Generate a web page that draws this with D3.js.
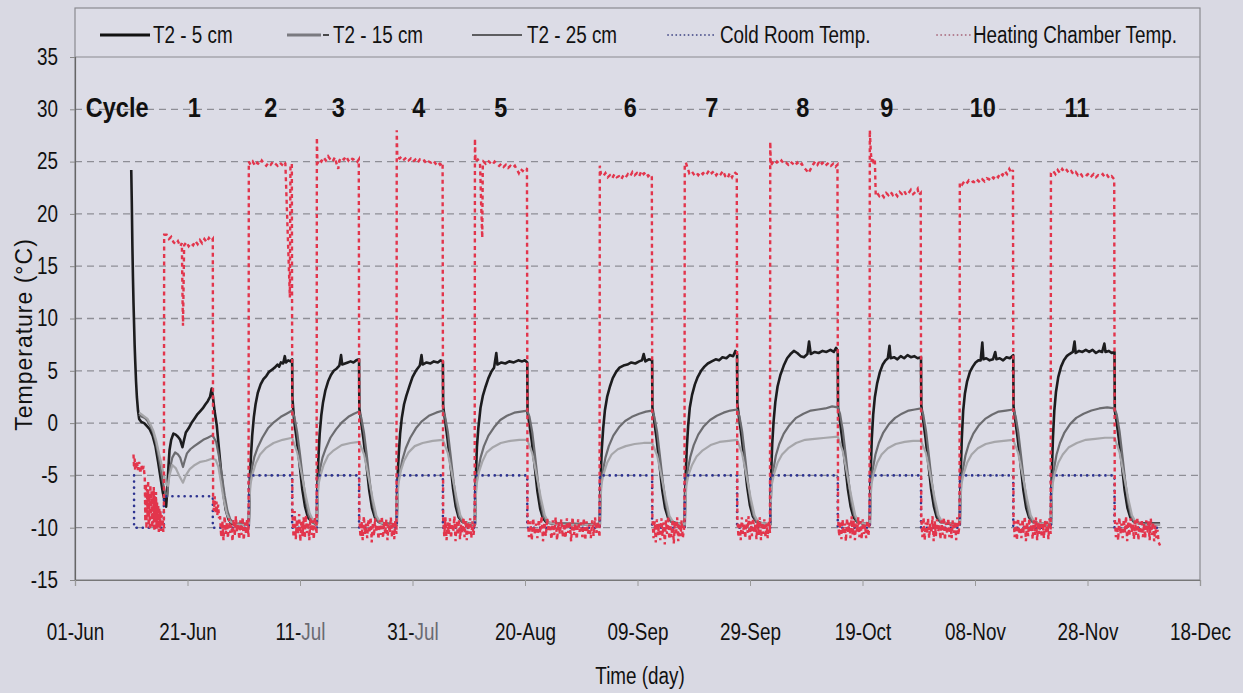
<!DOCTYPE html>
<html><head><meta charset="utf-8">
<script src="https://cdn.jsdelivr.net/npm/d3@7"></script>
<style>
body{margin:0;background:#d9d9e3;}
svg{display:block;}
text{font-family:"Liberation Sans",Arial,sans-serif;fill:#111;}
</style></head><body>
<svg id="chart" width="1243" height="693"></svg>
<script>
// ---- axis ticks (days counted from 01-Jun) ----
const xTickDays = [0,20,40,60,80,100,120,140,160,180,200];
const xTickLabels = ["01-Jun","21-Jun","11-Jul","31-Jul","20-Aug","09-Sep","29-Sep","19-Oct","08-Nov","28-Nov","18-Dec"];
const yTicks = [-15,-10,-5,0,5,10,15,20,25,30,35];

// ---- cycle annotations ----
const cycleLabels = ["Cycle","1","2","3","4","5","6","7","8","9","10","11"];
const cycleLabelDays = [7.5,21.2,34.8,46.8,61.1,75.7,98.7,113.2,129.4,144.3,161.4,178.1];

const legendNames = ["T2 - 5 cm","T2 - 15 cm","T2 - 25 cm","Cold Room Temp.","Heating Chamber Temp."];

// ---- T2 at 5 cm depth [day, °C] ----
const t2_5cm = [
[10.0,24.2],[10.1,21],[10.2,17],[10.3,14],[10.4,11.5],[10.5,9.5],[10.6,7.5],[10.7,6],[10.85,4],[11.0,2.5],[11.2,1.2],[11.4,0.4],[11.8,0.1],[12.3,0.0],[12.8,-0.3],[13.3,-0.6],[13.8,-1.2],[14.3,-2.2],[14.8,-3.8],[15.2,-5.2],[15.6,-6.6],[16.0,-7.6],[16.2,-8.0],[16.4,-6.5],[16.6,-4.3],[16.8,-2.6],[17.1,-1.6],[17.5,-1.0],[17.9,-1.1],[18.3,-1.3],[18.7,-1.6],[19.1,-2.3],[19.3,-1.8],[19.7,-0.9],[20.2,-0.5],[20.7,0.0],[21.2,0.4],[21.7,0.8],[22.2,1.1],[22.7,1.4],[23.2,1.8],[23.6,2.1],[24.0,2.5],[24.3,3.3],[24.5,2.6],[24.8,1.2],[25.2,-0.2],[25.6,-2.5],[26.0,-4.8],[26.4,-6.8],[26.8,-8.3],[27.3,-9.2],[27.8,-9.6],[28.5,-9.7],[29.5,-9.6],[30.9,-9.7],
[31.0,-7],[31.1,-5],[31.3,-3],[31.5,-1.2],[31.8,0.6],[32.1,1.8],[32.5,2.9],[33.0,3.7],[33.5,4.2],[34.0,4.5],[34.5,4.9],[35.0,5.1],[35.5,5.3],[36.0,5.6],[36.3,5.4],[36.6,5.8],[37.0,5.7],[37.3,6.4],[37.5,5.8],[37.9,6.0],[38.3,5.9],[38.6,6.1],
[38.65,2.4],[38.95,0.3],[39.4,-1.5],[39.9,-3.8],[40.4,-6.3],[40.9,-8.0],[41.4,-9.0],[42.0,-9.4],[43.0,-9.6],
[43.05,-7],[43.15,-5],[43.3,-3],[43.5,-1],[43.8,0.8],[44.1,2.0],[44.5,3.1],[45.0,4.0],[45.5,4.6],[46.0,5.0],[46.5,5.2],[47.0,5.5],[47.3,6.5],[47.5,5.6],[48.0,5.7],[48.5,5.8],[49.0,5.9],[49.5,5.8],[50.0,6.0],[50.5,6.1],
[50.55,1.4],[50.85,0.2],[51.3,-1.6],[51.8,-3.9],[52.3,-6.4],[52.8,-8.1],[53.3,-9.0],[53.9,-9.4],[55.0,-9.6],[57.2,-9.7],
[57.25,-7],[57.4,-4.5],[57.55,-3],[57.8,-1],[58.1,0.5],[58.5,1.8],[58.9,2.6],[59.5,3.6],[60.0,4.4],[60.6,5.0],[61.3,5.5],[61.6,6.5],[61.8,5.6],[62.5,5.8],[63.2,5.7],[63.8,5.9],[64.5,5.8],[65.0,6.0],[65.4,5.9],
[65.45,1.6],[65.75,0.4],[66.2,-1.4],[66.7,-3.7],[67.2,-6.2],[67.7,-8.0],[68.2,-9.0],[68.8,-9.4],[70.0,-9.6],[71.1,-9.7],
[71.15,-7],[71.3,-4.5],[71.45,-2.3],[71.7,-0.5],[72.1,1.5],[72.5,2.6],[73.0,3.5],[73.5,4.3],[74.0,4.9],[74.5,5.3],[74.9,6.7],[75.1,5.6],[75.8,5.8],[76.5,5.7],[77.2,5.9],[78.0,5.8],[78.8,6.0],[79.5,5.9],[80.0,6.0],[80.4,5.8],
[80.45,1.0],[80.75,0.0],[81.2,-1.7],[81.7,-4.0],[82.2,-6.5],[82.7,-8.2],[83.2,-9.1],[83.8,-9.5],[85.0,-9.6],[93.3,-9.7],
[93.35,-7],[93.5,-4.5],[93.65,-2.5],[93.9,-0.5],[94.2,1.2],[94.6,2.5],[95.1,3.5],[95.6,4.3],[96.2,4.9],[96.8,5.3],[97.5,5.5],[98.2,5.6],[98.9,5.8],[99.6,5.7],[100.3,5.9],[100.8,6.0],[101.1,6.6],[101.4,5.9],[102.0,6.1],[102.6,6.0],
[102.65,1.5],[102.95,0.3],[103.4,-1.5],[103.9,-3.9],[104.4,-6.4],[104.9,-8.1],[105.4,-9.0],[106.0,-9.4],[107.0,-9.6],[108.4,-9.7],
[108.45,-7],[108.6,-4.5],[108.75,-2.5],[109.0,-0.3],[109.3,1.5],[109.7,2.7],[110.2,3.7],[110.7,4.4],[111.3,5.0],[111.9,5.4],[112.5,5.7],[113.2,5.9],[113.9,6.1],[114.5,6.0],[115.1,6.3],[115.8,6.2],[116.4,6.5],[117.0,6.4],[117.4,6.9],[117.7,6.6],
[117.75,1.8],[118.05,0.5],[118.5,-1.3],[119.0,-3.6],[119.5,-6.1],[120.0,-7.9],[120.5,-8.9],[121.1,-9.4],[122.2,-9.6],[123.6,-9.7],
[123.65,-7],[123.8,-4.2],[123.95,-2],[124.2,0.2],[124.5,2.0],[124.9,3.5],[125.4,4.6],[126.0,5.5],[126.6,6.2],[127.2,6.6],[127.8,6.9],[128.4,6.7],[129.0,6.4],[129.6,6.3],[130.2,6.6],[130.5,7.8],[130.8,6.6],[131.5,6.8],[132.2,6.7],[132.9,6.9],[133.6,6.8],[134.3,7.0],[134.9,6.8],[135.3,7.2],[135.6,6.9],
[135.65,1.5],[135.95,0.3],[136.4,-1.5],[136.9,-3.9],[137.4,-6.3],[137.9,-8.0],[138.4,-9.0],[139.0,-9.4],[140.1,-9.6],[141.3,-9.7],
[141.35,-7],[141.5,-4],[141.65,-1.5],[141.9,0.8],[142.2,2.5],[142.6,3.8],[143.1,4.9],[143.6,5.6],[144.1,6.0],[144.5,6.2],[144.8,7.4],[145.0,6.2],[145.6,6.3],[146.2,6.1],[146.8,6.4],[147.4,6.2],[148.0,6.5],[148.6,6.3],[149.2,6.4],[149.8,6.2],[150.4,6.3],
[150.45,1.7],[150.75,0.4],[151.2,-1.4],[151.7,-3.8],[152.2,-6.3],[152.7,-8.0],[153.2,-9.0],[153.8,-9.4],[155.0,-9.6],[157.3,-9.7],
[157.35,-7],[157.5,-4.2],[157.65,-1.5],[157.9,1.2],[158.2,2.8],[158.6,4.0],[159.1,4.9],[159.6,5.4],[160.1,5.8],[160.6,6.0],[161.0,6.0],[161.3,7.7],[161.5,6.1],[162.0,6.2],[162.6,6.0],[163.2,6.1],[163.6,6.8],[163.8,6.1],[164.4,6.2],[165.0,6.0],[165.6,6.3],[166.2,6.2],[166.8,6.5],
[166.85,1.6],[167.15,0.3],[167.6,-1.5],[168.1,-3.9],[168.6,-6.4],[169.1,-8.1],[169.6,-9.0],[170.2,-9.4],[171.3,-9.6],[173.5,-9.7],
[173.55,-7],[173.7,-4],[173.85,-1.5],[174.1,1.2],[174.4,3.0],[174.8,4.4],[175.3,5.4],[175.8,6.0],[176.3,6.4],[176.8,6.6],[177.4,6.8],[177.7,7.8],[177.9,6.7],[178.5,6.9],[179.1,6.8],[179.7,7.0],[180.3,6.8],[180.9,7.0],[181.5,6.7],[182.1,6.9],[182.6,6.8],[183.0,7.6],[183.2,6.8],[183.8,6.9],[184.3,6.7],[184.8,6.8],
[184.85,1.2],[185.15,0.2],[185.6,-1.6],[186.1,-3.9],[186.6,-6.4],[187.1,-8.1],[187.6,-9.0],[188.2,-9.4],[189.5,-9.6],[192.9,-9.6]
];

// ---- T2 at 15 cm depth ----
const t2_15cm = [
[11.4,0.8],[11.9,0.6],[12.4,0.5],[12.9,0.2],[13.4,-0.3],[13.9,-0.9],[14.4,-1.9],[14.9,-3.3],[15.3,-4.6],[15.7,-5.9],[16.1,-6.8],[16.4,-7.0],[16.6,-5.6],[16.9,-4.3],[17.3,-3.3],[17.8,-2.8],[18.3,-3.0],[18.7,-3.3],[19.2,-4.2],[19.5,-3.6],[19.9,-2.9],[20.5,-2.5],[21.2,-2.2],[22.0,-1.9],[22.8,-1.6],[23.6,-1.4],[24.3,-1.2],[24.6,-1.3],[25.1,-1.8],[25.6,-3.2],[26.1,-5.0],[26.6,-6.9],[27.1,-8.4],[27.6,-9.2],[28.3,-9.6],[29.5,-9.7],[30.9,-9.7],
[31.0,-7.5],[31.15,-5.5],[31.5,-4.2],[31.9,-3.2],[32.5,-2.3],[33.3,-1.4],[34.3,-0.5],[35.4,0.1],[36.6,0.6],[37.6,0.9],[38.6,1.2],[39.0,0.6],[39.5,-0.9],[40.0,-3.0],[40.5,-5.3],[41.0,-7.3],[41.5,-8.7],[42.0,-9.4],[42.8,-9.7],[43.0,-9.7],
[43.1,-7.5],[43.25,-5.5],[43.6,-4.3],[44.0,-3.3],[44.6,-2.4],[45.4,-1.4],[46.4,-0.6],[47.5,0.1],[48.6,0.6],[49.6,0.9],[50.5,1.1],[50.9,0.5],[51.4,-1.0],[51.9,-3.2],[52.4,-5.6],[52.9,-7.6],[53.4,-8.9],[54.0,-9.5],[55,-9.7],[57.2,-9.7],
[57.3,-7.5],[57.45,-5.5],[57.8,-4.6],[58.2,-3.5],[58.8,-2.4],[59.6,-1.4],[60.6,-0.5],[61.7,0.2],[62.9,0.7],[64.2,1.0],[65.4,1.2],[65.8,0.6],[66.3,-0.9],[66.8,-3.2],[67.3,-5.6],[67.8,-7.6],[68.3,-8.9],[68.9,-9.5],[70,-9.7],[71.1,-9.7],
[71.2,-7.5],[71.35,-5.5],[71.7,-4.4],[72.1,-3.3],[72.7,-2.2],[73.5,-1.2],[74.5,-0.4],[75.6,0.3],[76.8,0.7],[78.1,1.0],[79.3,1.1],[80.4,1.2],[80.8,0.6],[81.3,-0.9],[81.8,-3.2],[82.3,-5.6],[82.8,-7.6],[83.3,-8.9],[83.9,-9.5],[86,-9.7],[93.3,-9.7],
[93.4,-7.5],[93.55,-5.5],[93.9,-4.4],[94.3,-3.3],[94.9,-2.2],[95.7,-1.2],[96.7,-0.4],[97.8,0.2],[99.0,0.6],[100.3,0.9],[101.5,1.1],[102.6,1.2],[103.0,0.6],[103.5,-0.9],[104.0,-3.2],[104.5,-5.6],[105.0,-7.6],[105.5,-8.9],[106.1,-9.5],[108.4,-9.7],
[108.5,-7.5],[108.65,-5.5],[109.0,-4.3],[109.4,-3.2],[110.0,-2.1],[110.8,-1.1],[111.8,-0.3],[112.9,0.3],[114.1,0.7],[115.3,1.0],[116.5,1.2],[117.7,1.3],[118.1,0.7],[118.6,-0.8],[119.1,-3.1],[119.6,-5.5],[120.1,-7.5],[120.6,-8.8],[121.2,-9.5],[123.6,-9.7],
[123.7,-7.5],[123.85,-5.5],[124.2,-4.3],[124.6,-3.1],[125.2,-2.0],[126.0,-1.0],[127.0,-0.2],[128.2,0.5],[129.5,0.9],[130.8,1.2],[132.1,1.3],[133.4,1.4],[134.6,1.6],[135.6,1.5],[136.0,0.9],[136.5,-0.7],[137.0,-3.0],[137.5,-5.4],[138.0,-7.5],[138.5,-8.8],[139.1,-9.5],[141.3,-9.7],
[141.4,-7.5],[141.55,-5.5],[141.9,-4.2],[142.3,-3.0],[142.9,-1.9],[143.7,-0.9],[144.7,-0.1],[145.8,0.5],[147.0,0.9],[148.2,1.2],[149.3,1.3],[150.4,1.4],[150.8,0.8],[151.3,-0.8],[151.8,-3.1],[152.3,-5.5],[152.8,-7.5],[153.3,-8.8],[153.9,-9.5],[157.3,-9.7],
[157.4,-7.5],[157.55,-5.5],[157.9,-4.3],[158.3,-3.1],[158.9,-2.0],[159.7,-1.0],[160.7,-0.2],[161.8,0.4],[163.0,0.8],[164.2,1.1],[165.5,1.2],[166.8,1.3],[167.2,0.7],[167.7,-0.9],[168.2,-3.2],[168.7,-5.6],[169.2,-7.6],[169.7,-8.9],[170.3,-9.5],[173.5,-9.7],
[173.6,-7.5],[173.75,-5.5],[174.1,-4.2],[174.5,-3.0],[175.1,-1.9],[175.9,-0.9],[176.9,-0.1],[178.0,0.5],[179.3,0.9],[180.7,1.2],[182.1,1.4],[183.5,1.5],[184.8,1.4],[185.2,0.8],[185.7,-0.8],[186.2,-3.1],[186.7,-5.5],[187.2,-7.5],[187.7,-8.8],[188.3,-9.5],[190,-9.7],[192.9,-9.7]
];

// ---- T2 at 25 cm depth ----
const t2_25cm = [
[11.4,1.0],[11.9,0.8],[12.4,0.6],[12.9,0.4],[13.4,-0.1],[13.9,-0.7],[14.4,-1.6],[14.9,-2.8],[15.4,-4.0],[15.8,-5.0],[16.2,-5.8],[16.5,-6.0],[16.8,-5.0],[17.3,-4.0],[17.9,-4.3],[18.5,-5.0],[19.2,-5.7],[19.7,-5.0],[20.4,-4.4],[21.3,-4.0],[22.3,-3.7],[23.3,-3.6],[24.3,-3.4],[25.0,-3.5],[25.5,-4.2],[25.9,-5.5],[26.4,-7.2],[27.0,-8.7],[27.6,-9.4],[28.4,-9.7],[30.9,-9.7],
[31.0,-7.5],[31.2,-5.8],[31.6,-4.8],[32.1,-3.9],[32.9,-3.0],[33.9,-2.4],[35.3,-1.9],[36.9,-1.6],[38.6,-1.4],[39.5,-2.8],[40.3,-4.9],[41.0,-6.9],[41.7,-8.6],[42.4,-9.4],[43.0,-9.7],
[43.1,-7.5],[43.3,-5.8],[43.7,-4.9],[44.2,-4.0],[45.0,-3.1],[46.0,-2.6],[47.4,-2.1],[49.0,-1.9],[50.5,-1.8],[51.4,-3.0],[52.2,-5.2],[52.9,-7.2],[53.6,-8.9],[54.3,-9.5],[55.5,-9.7],[57.2,-9.7],
[57.3,-7.5],[57.5,-5.8],[57.9,-4.6],[58.5,-3.6],[59.3,-2.8],[60.4,-2.2],[61.8,-1.9],[63.6,-1.7],[65.4,-1.6],[66.3,-2.9],[67.1,-5.1],[67.8,-7.1],[68.5,-8.8],[69.2,-9.5],[71.1,-9.7],
[71.2,-7.5],[71.4,-5.8],[71.8,-4.7],[72.4,-3.7],[73.2,-2.8],[74.3,-2.3],[75.7,-1.9],[77.4,-1.7],[79.0,-1.6],[80.4,-1.6],[81.3,-2.9],[82.1,-5.1],[82.8,-7.1],[83.5,-8.8],[84.2,-9.5],[86,-9.7],[93.3,-9.7],
[93.4,-7.5],[93.6,-5.8],[94.0,-4.8],[94.6,-3.8],[95.4,-3.0],[96.5,-2.5],[97.9,-2.2],[99.5,-2.0],[101.1,-1.9],[102.6,-1.9],[103.5,-3.1],[104.3,-5.2],[105.0,-7.2],[105.7,-8.9],[106.4,-9.5],[108.4,-9.7],
[108.5,-7.5],[108.7,-5.9],[109.1,-4.9],[109.7,-4.0],[110.5,-3.2],[111.6,-2.6],[113.0,-2.1],[114.6,-1.8],[116.2,-1.7],[117.7,-1.6],[118.6,-2.9],[119.4,-5.1],[120.1,-7.1],[120.8,-8.8],[121.5,-9.5],[123.6,-9.7],
[123.7,-7.5],[123.9,-5.8],[124.3,-4.8],[124.9,-3.8],[125.7,-3.0],[126.8,-2.4],[128.2,-1.9],[129.8,-1.6],[131.5,-1.5],[133.5,-1.4],[135.6,-1.3],[136.5,-2.7],[137.3,-5.0],[138.0,-7.0],[138.7,-8.8],[139.4,-9.5],[141.3,-9.7],
[141.4,-7.5],[141.6,-5.8],[142.0,-4.8],[142.6,-3.8],[143.4,-3.0],[144.5,-2.4],[145.9,-2.0],[147.5,-1.8],[149.0,-1.7],[150.4,-1.7],[151.3,-2.9],[152.1,-5.1],[152.8,-7.1],[153.5,-8.8],[154.2,-9.5],[157.3,-9.7],
[157.4,-7.5],[157.6,-5.8],[158.0,-4.8],[158.6,-3.8],[159.4,-3.0],[160.5,-2.4],[161.9,-2.0],[163.5,-1.8],[165.1,-1.7],[166.8,-1.6],[167.7,-2.9],[168.5,-5.1],[169.2,-7.1],[169.9,-8.8],[170.6,-9.5],[173.5,-9.7],
[173.6,-7.5],[173.8,-5.8],[174.2,-4.8],[174.8,-3.8],[175.6,-3.0],[176.7,-2.3],[178.1,-1.9],[179.7,-1.6],[181.4,-1.5],[183.1,-1.4],[184.8,-1.4],[185.7,-2.8],[186.5,-5.1],[187.2,-7.1],[187.9,-8.8],[188.6,-9.5],[190,-9.7],[192.9,-9.7]
];

// ---- cold room set point ----
const coldRoom = [
[10.5,-5],[10.5,-10],[15.8,-10],[15.8,-7],[24.5,-7],[24.5,-10],[30.9,-10],[30.9,-5],[38.6,-5],[38.6,-10],[43.0,-10],[43.0,-5],[50.5,-5],[50.5,-10],[57.2,-10],[57.2,-5],[65.4,-5],[65.4,-10],[71.1,-10],[71.1,-5],[80.4,-5],[80.4,-10],[93.3,-10],[93.3,-5],[102.6,-5],[102.6,-10],[108.4,-10],[108.4,-5],[117.7,-5],[117.7,-10],[123.6,-10],[123.6,-5],[135.6,-5],[135.6,-10],[141.3,-10],[141.3,-5],[150.4,-5],[150.4,-10],[157.3,-10],[157.3,-5],[166.8,-5],[166.8,-10],[173.5,-10],[173.5,-5],[184.8,-5],[184.8,-10],[192.9,-10]
];

// ---- heating chamber temperature ----
const heatingChamber = [
[10.4,-3.0],[10.5,-4.3],[10.6,-3.4],[10.7,-4.6],[10.8,-3.8],[10.9,-4.4],[11.0,-3.6],[11.2,-4.5],[11.4,-3.7],[11.6,-4.8],[11.8,-4.0],[12.0,-4.6],[12.2,-4.1],
[12.4,-5.2],[12.5,-9.4],[12.6,-5.8],[12.7,-10.1],[12.8,-6.3],[12.9,-9.0],[13.0,-5.5],[13.1,-9.8],[13.2,-6.8],[13.3,-10.2],[13.4,-5.9],[13.5,-8.8],[13.6,-6.5],[13.7,-10.0],[13.8,-7.2],[13.9,-9.6],[14.0,-6.1],[14.1,-10.3],[14.2,-7.0],[14.3,-9.2],[14.4,-6.6],[14.5,-10.1],[14.6,-7.6],[14.7,-9.7],[14.8,-7.9],[14.9,-10.4],[15.0,-8.1],[15.1,-10.0],[15.2,-8.4],[15.3,-10.3],[15.4,-8.8],[15.5,-9.9],[15.6,-9.2],[15.7,-10.4],[15.8,-10.0],
[15.85,18.0],[16.3,18.0],[16.7,17.6],[17.1,17.8],[17.5,17.3],[17.9,17.1],[18.3,17.4],[18.7,16.9],[19.0,17.2],[19.1,12.5],[19.2,9.3],[19.3,13],[19.4,17.0],[19.8,17.3],[20.2,16.9],[20.6,17.2],[21.0,17.0],[21.4,17.4],[21.8,17.1],[22.2,17.5],[22.6,17.2],[23.0,17.6],[23.4,17.3],[23.8,17.7],[24.2,17.4],[24.5,17.6],
[24.55,-7.2],[24.7,-8.4],[24.85,-7.0],[25.0,-8.6],[25.15,-7.5],[25.3,-8.8],[25.45,-7.8],[25.6,-9.0],
[25.8,-9.0],[26.0,-10.9],[26.2,-9.4],[26.4,-11.2],[26.6,-8.9],[26.8,-10.6],[27.0,-9.5],[27.2,-11.0],[27.4,-9.1],[27.6,-10.5],[27.8,-9.7],[28.0,-11.3],[28.2,-9.2],[28.4,-10.8],[28.6,-8.9],[28.8,-10.4],[29.0,-9.6],[29.2,-11.1],[29.4,-9.3],[29.6,-10.7],[29.8,-9.0],[30.0,-11.2],[30.2,-9.5],[30.4,-10.6],[30.6,-9.2],[30.85,-10.9],
[30.9,25.0],[31.2,24.7],[31.6,25.0],[32.0,24.6],[32.4,24.9],[32.8,24.7],[33.2,25.1],[33.6,24.8],[34.0,24.6],[34.4,24.9],[34.8,24.7],[35.2,25.0],[35.6,24.8],[36.0,24.6],[36.4,24.9],[36.8,24.7],[37.2,25.0],[37.4,24.8],[38.2,12.0],[38.3,24.6],[38.55,24.8],
[38.65,-8.6],[38.85,-10.9],[39.05,-8.4],[39.25,-11.1],[39.45,-9.2],[39.65,-10.6],[39.85,-8.7],[40.05,-11.3],[40.25,-9.4],[40.45,-10.8],[40.65,-9.0],[40.85,-11.0],[41.05,-8.8],[41.25,-10.5],[41.45,-9.5],[41.65,-11.2],[41.85,-9.1],[42.05,-10.7],[42.25,-9.3],[42.45,-11.1],[42.65,-9.0],[42.95,-10.6],
[43.0,27.3],[43.1,24.8],[43.4,25.2],[43.8,25.0],[44.2,25.4],[44.6,25.1],[45.0,25.5],[45.4,25.2],[45.8,25.0],[46.2,25.4],[46.6,24.6],[46.8,24.3],[47.0,25.1],[47.4,25.4],[47.8,25.2],[48.2,25.5],[48.6,25.1],[49.0,25.4],[49.4,25.2],[49.8,25.3],[50.2,25.0],[50.45,25.2],
[50.55,-9.1],[50.75,-10.9],[50.95,-9.4],[51.15,-11.2],[51.35,-8.9],[51.55,-10.6],[51.75,-9.6],[51.95,-11.0],[52.15,-9.2],[52.35,-10.5],[52.55,-9.0],[52.75,-11.4],[52.95,-9.5],[53.15,-10.8],[53.35,-9.1],[53.55,-10.4],[53.75,-9.7],[53.95,-11.1],[54.15,-9.3],[54.35,-10.7],[54.55,-8.9],[54.75,-11.0],[54.95,-9.4],[55.15,-10.6],[55.35,-9.2],[55.55,-11.2],[55.75,-9.6],[55.95,-10.5],[56.15,-9.0],[56.35,-10.9],[56.55,-9.4],[56.75,-11.1],[56.95,-9.3],[57.15,-10.6],
[57.2,28.0],[57.3,25.4],[57.7,25.3],[58.1,25.5],[58.5,25.2],[58.9,25.4],[59.3,25.1],[59.7,25.3],[60.1,25.0],[60.5,25.2],[60.9,24.9],[61.3,25.2],[61.7,25.0],[62.1,25.1],[62.5,24.8],[62.9,25.0],[63.3,24.9],[63.7,25.1],[64.1,24.8],[64.5,25.0],[64.9,24.7],[65.35,24.9],
[65.45,-9.2],[65.65,-10.8],[65.85,-9.0],[66.05,-11.2],[66.25,-9.5],[66.45,-10.6],[66.65,-9.1],[66.85,-11.0],[67.05,-9.6],[67.25,-10.4],[67.45,-8.9],[67.65,-11.3],[67.85,-9.4],[68.05,-10.7],[68.25,-9.2],[68.45,-11.1],[68.65,-9.7],[68.85,-10.5],[69.05,-9.0],[69.25,-10.9],[69.45,-9.3],[69.65,-11.2],[69.85,-9.5],[70.05,-10.6],[70.25,-9.1],[70.45,-11.0],[70.65,-9.4],[70.85,-10.7],[71.05,-9.6],
[71.1,27.2],[71.2,25.0],[71.6,25.2],[72.0,24.9],[72.2,21.0],[72.4,17.7],[72.5,24.8],[72.6,25.0],[73.0,24.8],[73.4,25.1],[73.8,24.9],[74.2,24.7],[74.6,25.0],[75.0,24.8],[75.4,24.6],[75.8,24.8],[76.2,24.5],[76.6,24.7],[77.0,24.4],[77.4,24.6],[77.8,24.4],[78.2,24.6],[78.6,24.2],[78.9,23.9],[79.2,24.3],[79.6,24.1],[80.0,24.4],[80.35,24.3],
[80.45,-9.0],[80.7,-10.9],[80.95,-9.4],[81.2,-11.2],[81.45,-9.1],[81.7,-10.6],[81.95,-9.6],[82.2,-11.0],[82.45,-9.2],[82.7,-10.5],[82.95,-8.9],[83.2,-11.3],[83.45,-9.5],[83.7,-10.8],[83.95,-9.1],[84.2,-10.4],[84.45,-9.7],[84.7,-11.1],[84.95,-9.3],[85.2,-10.7],[85.45,-9.0],[85.7,-11.2],[85.95,-9.5],[86.2,-10.6],[86.45,-9.2],[86.7,-10.9],[86.95,-9.6],[87.2,-11.0],[87.45,-9.1],[87.7,-10.5],[87.95,-9.4],[88.2,-11.3],[88.45,-9.0],[88.7,-10.7],[88.95,-9.6],[89.2,-11.1],[89.45,-9.2],[89.7,-10.4],[89.95,-9.5],[90.2,-10.9],[90.45,-9.1],[90.7,-11.2],[90.95,-9.4],[91.2,-10.6],[91.45,-9.7],[91.7,-11.0],[91.95,-9.3],[92.2,-10.8],[92.45,-9.0],[92.7,-10.5],[92.95,-9.4],[93.25,-10.9],
[93.3,24.6],[93.5,23.8],[93.9,23.6],[94.3,23.9],[94.7,23.5],[95.1,23.7],[95.5,23.4],[95.9,23.8],[96.3,23.5],[96.7,23.6],[97.1,23.3],[97.5,23.7],[97.9,23.5],[98.3,23.8],[98.7,23.6],[99.1,24.0],[99.5,23.7],[99.9,23.9],[100.3,23.6],[100.7,24.1],[101.1,23.8],[101.5,24.0],[101.9,23.6],[102.3,23.8],[102.55,23.5],
[102.65,-9.0],[102.85,-11.0],[103.05,-9.4],[103.25,-11.4],[103.45,-9.2],[103.65,-10.7],[103.85,-9.6],[104.05,-11.2],[104.25,-9.1],[104.45,-10.8],[104.65,-9.5],[104.85,-11.6],[105.05,-9.3],[105.25,-10.6],[105.45,-8.9],[105.65,-11.1],[105.85,-9.7],[106.05,-10.9],[106.25,-9.2],[106.45,-11.5],[106.65,-9.4],[106.85,-10.7],[107.05,-9.0],[107.25,-11.3],[107.45,-9.6],[107.65,-10.8],[107.85,-9.3],[108.05,-11.0],[108.35,-9.8],
[108.4,24.6],[108.6,24.9],[108.9,24.4],[109.2,23.9],[109.6,24.1],[110.0,23.8],[110.4,24.0],[110.8,23.7],[111.2,24.0],[111.6,23.8],[112.0,24.1],[112.4,23.9],[112.8,24.2],[113.2,23.9],[113.6,24.1],[114.0,23.7],[114.4,24.0],[114.8,23.8],[115.2,24.1],[115.6,23.6],[116.0,23.4],[116.4,23.9],[116.8,23.5],[117.2,24.0],[117.65,23.8],
[117.75,-9.1],[117.95,-10.9],[118.15,-9.5],[118.35,-11.2],[118.55,-9.0],[118.75,-10.6],[118.95,-9.6],[119.15,-11.0],[119.35,-9.2],[119.55,-10.5],[119.75,-8.9],[119.95,-11.3],[120.15,-9.4],[120.35,-10.8],[120.55,-9.1],[120.75,-10.4],[120.95,-9.7],[121.15,-11.1],[121.35,-9.3],[121.55,-10.7],[121.75,-9.0],[121.95,-11.2],[122.15,-9.5],[122.35,-10.6],[122.55,-9.2],[122.75,-10.9],[122.95,-9.6],[123.15,-11.0],[123.35,-9.3],[123.55,-10.5],
[123.6,26.9],[123.7,24.6],[124.0,24.9],[124.4,24.7],[124.8,25.0],[125.2,24.8],[125.6,25.1],[126.0,24.8],[126.4,24.9],[126.8,24.7],[127.2,25.0],[127.6,24.8],[128.0,24.6],[128.4,24.9],[128.8,24.6],[129.2,24.8],[129.6,24.4],[130.0,24.2],[130.4,23.9],[130.8,24.3],[131.2,24.7],[131.6,25.0],[132.0,24.7],[132.4,25.1],[132.8,24.8],[133.2,25.0],[133.6,24.7],[134.0,24.9],[134.4,24.6],[134.8,24.8],[135.2,24.5],[135.55,24.7],
[135.65,-9.0],[135.85,-10.8],[136.05,-9.4],[136.25,-11.1],[136.45,-9.2],[136.65,-10.6],[136.85,-9.6],[137.05,-11.3],[137.25,-9.1],[137.45,-10.5],[137.65,-9.5],[137.85,-11.0],[138.05,-8.9],[138.25,-10.7],[138.45,-9.3],[138.65,-11.2],[138.85,-9.6],[139.05,-10.4],[139.25,-9.0],[139.45,-10.9],[139.65,-9.4],[139.85,-11.1],[140.05,-9.2],[140.25,-10.6],[140.45,-9.7],[140.65,-11.0],[140.85,-9.3],[141.05,-10.8],[141.25,-9.5],
[141.3,28.0],[141.45,26.2],[141.6,25.0],[141.8,25.4],[142.0,24.8],[142.2,25.1],[142.35,21.8],[142.6,22.0],[143.0,21.7],[143.4,21.9],[143.8,21.6],[144.2,22.0],[144.6,21.8],[145.0,22.1],[145.4,21.8],[145.8,22.0],[146.2,21.7],[146.6,22.1],[147.0,21.9],[147.4,22.2],[147.8,21.8],[148.2,22.0],[148.6,22.3],[149.0,21.9],[149.4,22.1],[149.8,22.4],[150.0,21.8],[150.35,22.0],
[150.45,-9.2],[150.65,-10.9],[150.85,-9.0],[151.05,-11.2],[151.25,-9.5],[151.45,-10.6],[151.65,-9.1],[151.85,-11.0],[152.05,-9.6],[152.25,-10.5],[152.45,-8.9],[152.65,-11.3],[152.85,-9.4],[153.05,-10.8],[153.25,-9.2],[153.45,-10.4],[153.65,-9.7],[153.85,-11.1],[154.05,-9.3],[154.25,-10.7],[154.45,-9.0],[154.65,-11.2],[154.85,-9.5],[155.05,-10.6],[155.25,-9.1],[155.45,-10.9],[155.65,-9.6],[155.85,-11.0],[156.05,-9.3],[156.25,-10.5],[156.45,-9.4],[156.65,-11.2],[156.85,-9.0],[157.05,-10.7],[157.25,-9.6],
[157.3,23.0],[157.7,22.8],[158.1,23.1],[158.5,22.9],[158.9,23.2],[159.3,23.0],[159.7,23.1],[160.1,22.9],[160.5,23.2],[160.9,23.0],[161.3,23.3],[161.7,23.1],[162.1,23.4],[162.5,23.3],[162.9,23.6],[163.3,23.4],[163.7,23.7],[164.1,23.5],[164.5,23.9],[164.9,23.7],[165.3,24.1],[165.7,23.8],[166.1,24.3],[166.5,23.9],[166.75,24.2],
[166.85,-9.0],[167.05,-10.9],[167.25,-9.4],[167.45,-11.2],[167.65,-9.1],[167.85,-10.6],[168.05,-9.6],[168.25,-11.0],[168.45,-9.2],[168.65,-10.5],[168.85,-8.9],[169.05,-11.3],[169.25,-9.5],[169.45,-10.8],[169.65,-9.1],[169.85,-10.4],[170.05,-9.7],[170.25,-11.1],[170.45,-9.3],[170.65,-10.7],[170.85,-9.0],[171.05,-11.2],[171.25,-9.5],[171.45,-10.6],[171.65,-9.2],[171.85,-10.9],[172.05,-9.6],[172.25,-11.0],[172.45,-9.3],[172.65,-10.5],[172.85,-9.4],[173.05,-11.1],[173.25,-9.1],[173.45,-10.6],
[173.5,23.9],[173.9,24.1],[174.3,23.8],[174.7,24.2],[175.1,23.9],[175.5,24.3],[175.9,24.0],[176.3,24.2],[176.7,23.9],[177.1,24.1],[177.5,23.8],[177.9,24.0],[178.3,23.7],[178.7,23.9],[179.1,23.6],[179.5,23.8],[179.9,23.7],[180.3,23.9],[180.7,23.6],[181.1,23.8],[181.5,23.5],[181.9,23.7],[182.3,23.6],[182.7,23.8],[183.1,23.5],[183.5,23.7],[183.9,23.4],[184.3,23.6],[184.75,23.3],
[184.85,-9.1],[185.05,-10.9],[185.25,-9.5],[185.45,-11.2],[185.65,-9.0],[185.85,-10.6],[186.05,-9.6],[186.25,-11.0],[186.45,-9.2],[186.65,-10.5],[186.85,-8.9],[187.05,-11.3],[187.25,-9.4],[187.45,-10.8],[187.65,-9.1],[187.85,-10.4],[188.05,-9.7],[188.25,-11.1],[188.45,-9.3],[188.65,-10.7],[188.85,-9.0],[189.05,-11.2],[189.25,-9.5],[189.45,-10.6],[189.65,-9.2],[189.85,-10.9],[190.05,-9.6],[190.25,-11.0],[190.45,-9.3],[190.65,-10.5],[190.85,-9.4],[191.05,-11.2],[191.25,-9.1],[191.45,-10.7],[191.65,-9.5],[191.85,-11.3],[192.05,-9.8],[192.25,-11.0],[192.45,-10.2],[192.65,-11.4],[192.9,-11.7]
];

// ---- layout ----
const W = 1243, H = 693;
const svg = d3.select("#chart");
const x = d3.scaleLinear().domain([0, 200]).range([75, 1200]);
const y = d3.scaleLinear().domain([-15, 35]).range([580, 57]);
const frameTop = 8;
const NARROW = 0.82;   // horizontal squeeze that gives the condensed face

// squeeze text horizontally around its anchor point
function condense(sel, k) {
  sel.each(function() {
    const t = d3.select(this);
    const tx = +t.attr("x") || 0, ty = +t.attr("y") || 0;
    t.attr("x", 0).attr("y", 0)
     .attr("transform", `translate(${tx},${ty}) scale(${k},1)`);
  });
}

svg.append("rect").attr("width", W).attr("height", H).attr("fill", "#d9d9e3");
svg.append("rect")
  .attr("x", x(0)).attr("y", frameTop)
  .attr("width", x(200) - x(0)).attr("height", y(-15) - frameTop)
  .attr("fill", "#dcdce6");

// dashed horizontal gridlines
svg.append("g").selectAll("line")
  .data(yTicks.filter(t => t > -15 && t < 35))
  .join("line")
  .attr("x1", x(0)).attr("x2", x(200))
  .attr("y1", d => y(d)).attr("y2", d => y(d))
  .attr("stroke", "#8e8e96").attr("stroke-width", 1.3)
  .attr("stroke-dasharray", "7,5");

// frame and plot top border
svg.append("rect")
  .attr("x", x(0)).attr("y", frameTop)
  .attr("width", x(200) - x(0)).attr("height", y(-15) - frameTop)
  .attr("fill", "none").attr("stroke", "#8a8a90").attr("stroke-width", 1.2);
svg.append("line")
  .attr("x1", x(0)).attr("x2", x(200)).attr("y1", y(35)).attr("y2", y(35))
  .attr("stroke", "#8a8a90").attr("stroke-width", 1.2);

// axes
const yAxis = d3.axisLeft(y).tickValues(yTicks).tickSize(5).tickPadding(12).tickFormat(d => d);
const gy = svg.append("g").attr("transform", `translate(${x(0)},0)`).call(yAxis);
gy.select(".domain").attr("stroke", "#666").attr("stroke-width", 1.2);
gy.selectAll(".tick line").attr("stroke", "#888");
gy.selectAll(".tick text").attr("font-size", 23).attr("fill", "#111")
  .style("font-family", '"Liberation Sans",Arial,sans-serif');
condense(gy.selectAll(".tick text"), NARROW);

const xAxis = d3.axisBottom(x).tickValues(xTickDays).tickSize(6).tickPadding(38)
  .tickFormat((d, i) => xTickLabels[i]);
const gx = svg.append("g").attr("transform", `translate(0,${y(-15)})`).call(xAxis);
gx.select(".domain").attr("stroke", "#777").attr("stroke-width", 1.2);
gx.selectAll(".tick line").attr("stroke", "#999");
gx.selectAll(".tick text").attr("font-size", 23).attr("fill", "#111")
  .style("font-family", '"Liberation Sans",Arial,sans-serif')
  .each(function(d, i) {
    const lab = xTickLabels[i];
    if (lab.endsWith("Jul")) {
      const t = d3.select(this).text(null);
      t.append("tspan").text(lab.slice(0, 3));
      t.append("tspan").attr("fill", "#6a6a72").text(lab.slice(3));
    }
  });
condense(gx.selectAll(".tick text"), NARROW);

// axis titles
const xTitle = svg.append("text").attr("x", 640).attr("y", 684).attr("text-anchor", "middle")
  .attr("font-size", 23).text("Time (day)");
condense(xTitle, NARROW);
svg.append("text")
  .attr("transform", `translate(32,${(y(35) + y(-15)) / 2 + 16}) rotate(-90)`)
  .attr("text-anchor", "middle").attr("font-size", 23)
  .style("letter-spacing", "1px")
  .text("Temperature (°C)");

// ---- series ----
const line = d3.line().x(d => x(d[0])).y(d => y(d[1]));
const plot = svg.append("g");

plot.append("path").datum(t2_5cm).attr("d", line)
  .attr("fill", "none").attr("stroke", "#1c1c1e").attr("stroke-width", 2.6).attr("stroke-linejoin", "round");
plot.append("path").datum(t2_15cm).attr("d", line)
  .attr("fill", "none").attr("stroke", "#6c6c70").attr("stroke-width", 2.2).attr("stroke-linejoin", "round");
plot.append("path").datum(t2_25cm).attr("d", line)
  .attr("fill", "none").attr("stroke", "#a6a6aa").attr("stroke-width", 2.2).attr("stroke-linejoin", "round");
plot.append("path").datum(coldRoom).attr("d", line)
  .attr("fill", "none").attr("stroke", "#2d3390").attr("stroke-width", 2.6)
  .attr("stroke-dasharray", "0.1,6").attr("stroke-linecap", "round");
plot.append("path").datum(heatingChamber).attr("d", line)
  .attr("fill", "none").attr("stroke", "#e2354c").attr("stroke-width", 2.4)
  .attr("stroke-dasharray", "4,3.5");

// ---- cycle numbers ----
const cyc = svg.append("g").selectAll("text")
  .data(cycleLabels)
  .join("text")
  .attr("x", (d, i) => x(cycleLabelDays[i]))
  .attr("y", y(30) + 8)
  .attr("text-anchor", "middle")
  .attr("font-size", 28).attr("font-weight", "bold")
  .text(d => d);
condense(cyc, 0.84);

// ---- legend ----
const lg = svg.append("g");
const ly = 35;
// T2 - 5 cm
lg.append("line").attr("x1", 100).attr("x2", 150).attr("y1", ly).attr("y2", ly)
  .attr("stroke", "#111").attr("stroke-width", 3);
// T2 - 15 cm
lg.append("line").attr("x1", 287).attr("x2", 321).attr("y1", ly).attr("y2", ly)
  .attr("stroke", "#7a7a80").attr("stroke-width", 3);
lg.append("line").attr("x1", 323).attr("x2", 329).attr("y1", ly).attr("y2", ly)
  .attr("stroke", "#222").attr("stroke-width", 1.6);
// T2 - 25 cm
lg.append("line").attr("x1", 472).attr("x2", 522).attr("y1", ly).attr("y2", ly)
  .attr("stroke", "#333").attr("stroke-width", 1.6);
// Cold room
lg.append("line").attr("x1", 668).attr("x2", 716).attr("y1", ly).attr("y2", ly)
  .attr("stroke", "#5a5f95").attr("stroke-width", 1.8)
  .attr("stroke-dasharray", "0.1,4").attr("stroke-linecap", "round");
// Heating chamber
lg.append("line").attr("x1", 937).attr("x2", 971).attr("y1", ly).attr("y2", ly)
  .attr("stroke", "#b07a8c").attr("stroke-width", 1.8)
  .attr("stroke-dasharray", "0.1,4").attr("stroke-linecap", "round");

const legendTextX = [153, 333, 527, 720, 973];
const lgText = lg.selectAll("text").data(legendNames).join("text")
  .attr("x", (d, i) => legendTextX[i]).attr("y", ly + 8)
  .attr("font-size", 23).text(d => d);
condense(lgText, NARROW);
</script>
</body></html>
